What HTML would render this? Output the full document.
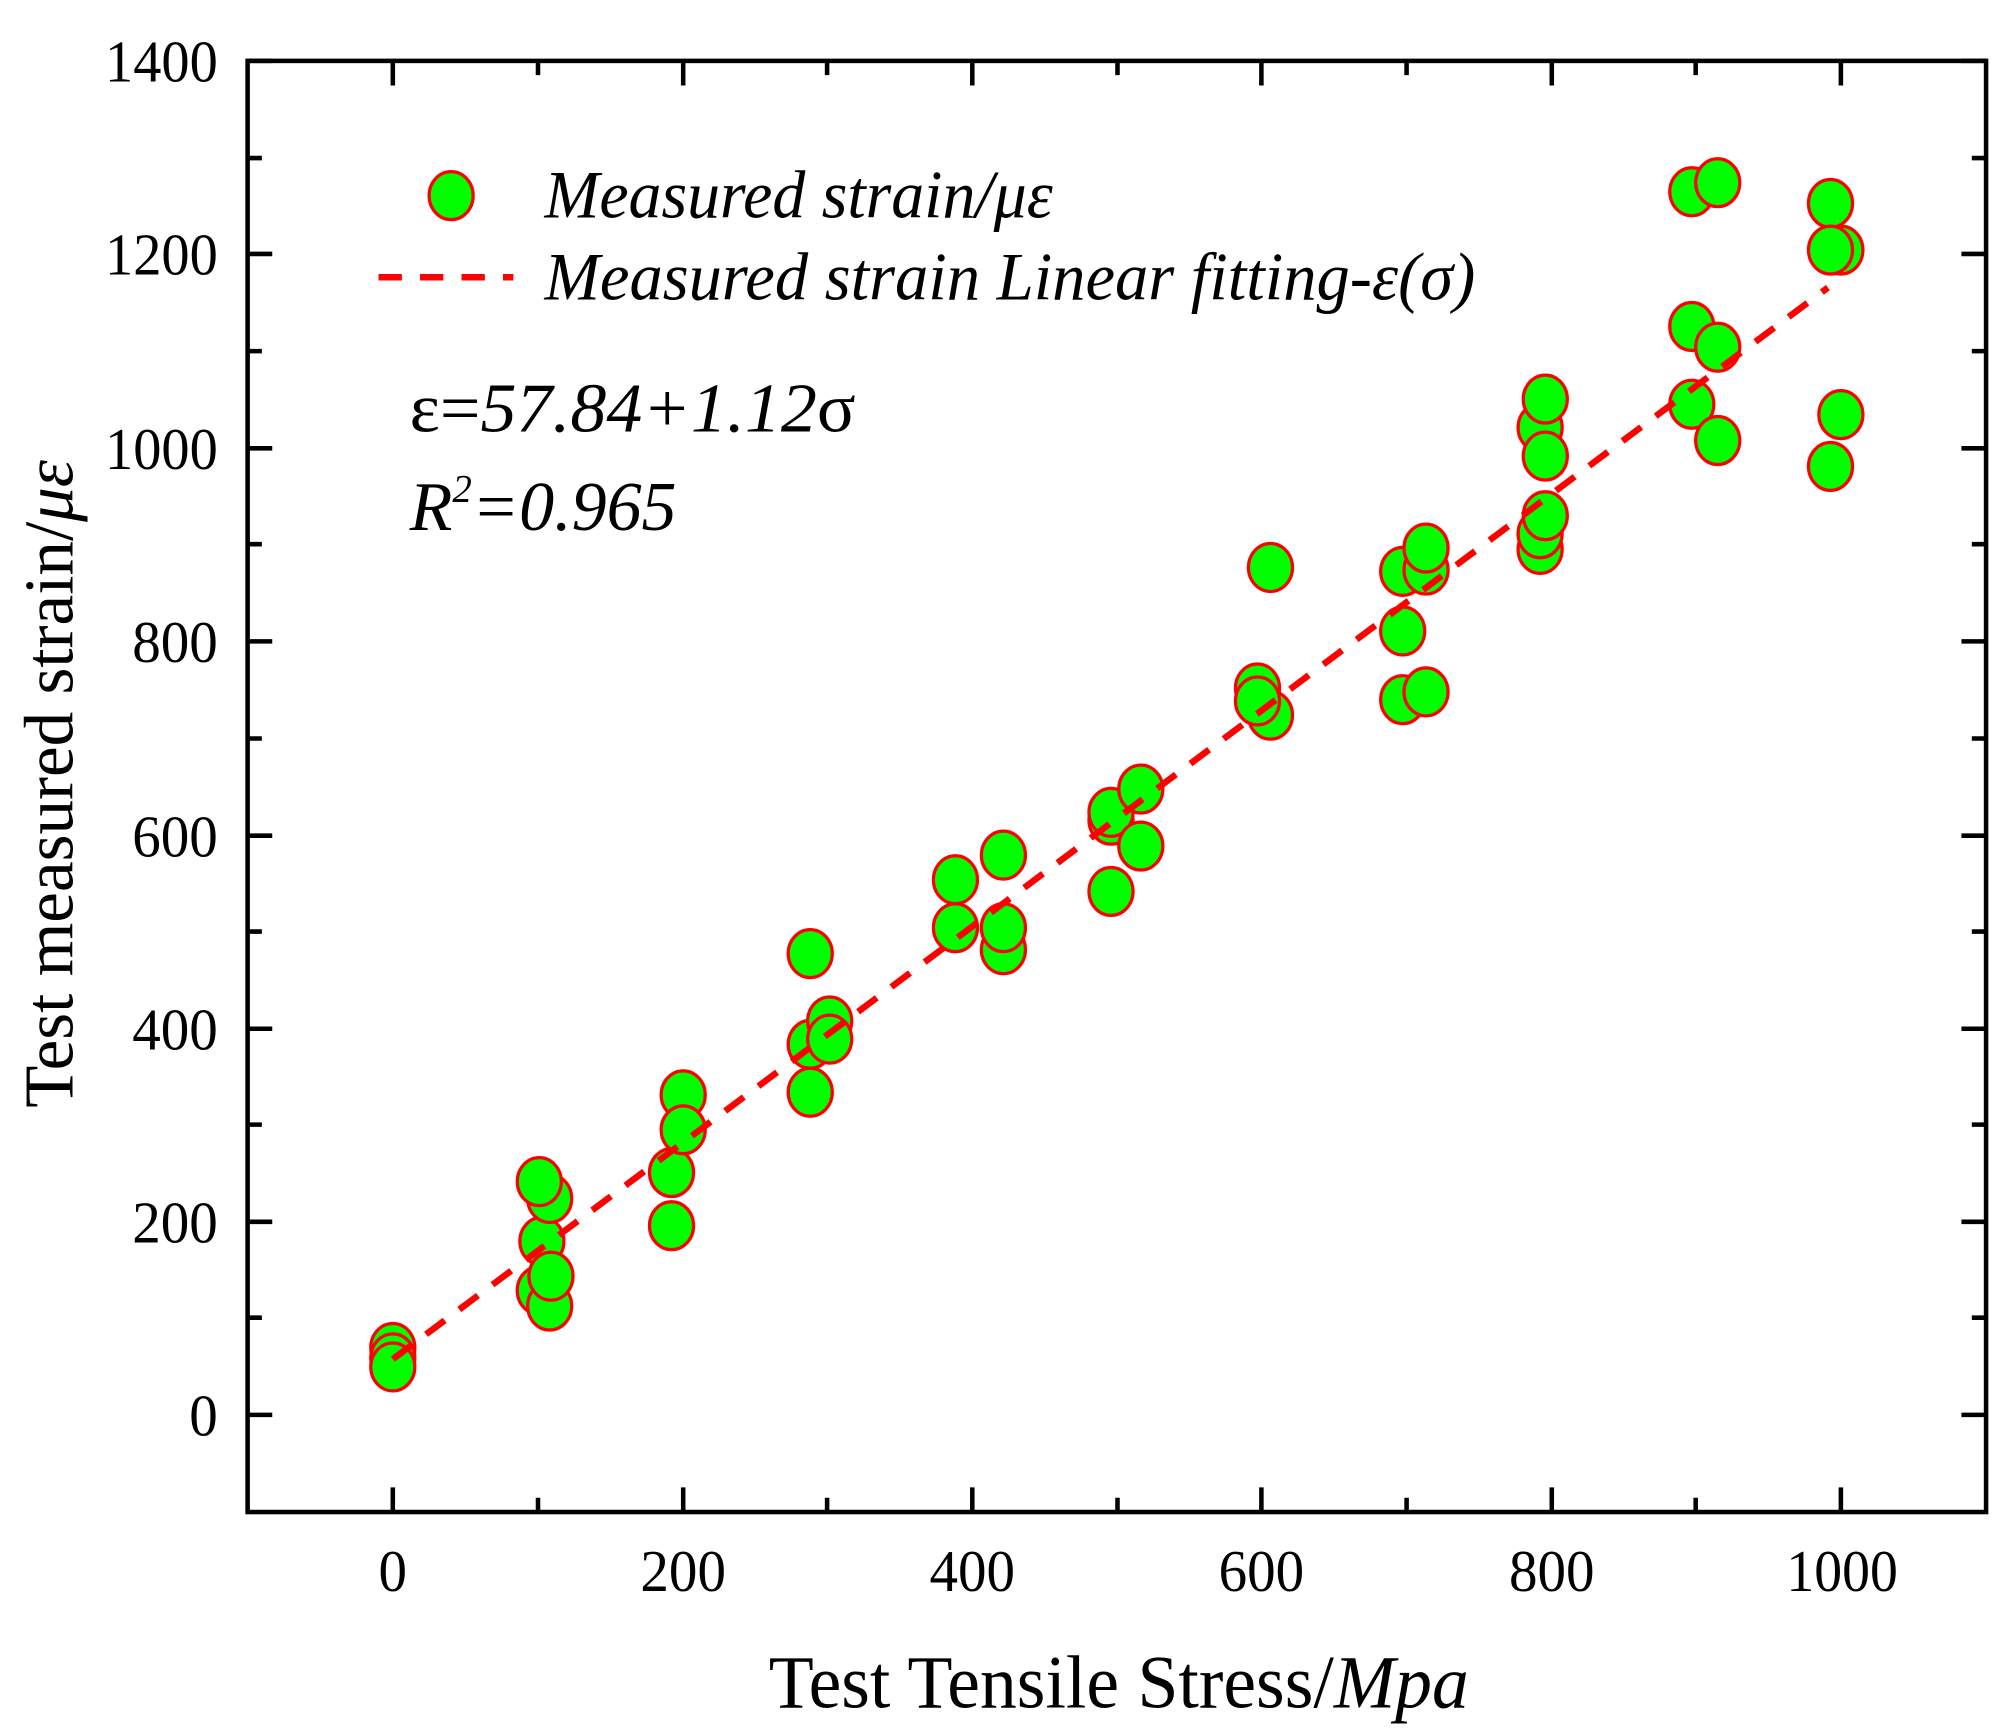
<!DOCTYPE html>
<html><head><meta charset="utf-8"><style>
html,body{margin:0;padding:0;background:#fff}
svg{display:block}
text{font-family:"Liberation Serif","DejaVu Serif",serif;fill:#000}
</style></head><body>
<svg width="2012" height="1731" viewBox="0 0 1552 1336" preserveAspectRatio="none" xmlns="http://www.w3.org/2000/svg">
<rect width="1552" height="1336" fill="#fff"/>
<g stroke="#000" stroke-width="3.5">
<path d="M191 1092h19M191 943h19M191 794h19M191 645h19M191 495h19M191 346h19M191 196h19M191 47h19"/>
<path d="M1532 1092h-19M1532 943h-19M1532 794h-19M1532 645h-19M1532 495h-19M1532 346h-19M1532 196h-19M1532 47h-19"/>
<path d="M191 1017h11M191 868h11M191 719h11M191 570h11M191 420h11M191 271h11M191 122h11"/>
<path d="M1532 1017h-11M1532 868h-11M1532 719h-11M1532 570h-11M1532 420h-11M1532 271h-11M1532 122h-11"/>
<path d="M303 1167v-19M527 1167v-19M750 1167v-19M973 1167v-19M1197 1167v-19M1420 1167v-19"/>
<path d="M303 47v19M527 47v19M750 47v19M973 47v19M1197 47v19M1420 47v19"/>
<path d="M415 1167v-11M638 1167v-11M862 1167v-11M1085 1167v-11M1308 1167v-11"/>
<path d="M415 47v11M638 47v11M862 47v11M1085 47v11M1308 47v11"/>
</g>
<rect x="191" y="47" width="1341" height="1120" fill="none" stroke="#000" stroke-width="3.5"/>
<g font-size="46" text-anchor="end" lengthAdjust="spacingAndGlyphs">
<text x="168" y="1108" textLength="22" lengthAdjust="spacingAndGlyphs">0</text>
<text x="168" y="959" textLength="66" lengthAdjust="spacingAndGlyphs">200</text>
<text x="168" y="810" textLength="66" lengthAdjust="spacingAndGlyphs">400</text>
<text x="168" y="661" textLength="66" lengthAdjust="spacingAndGlyphs">600</text>
<text x="168" y="511" textLength="66" lengthAdjust="spacingAndGlyphs">800</text>
<text x="168" y="362" textLength="87" lengthAdjust="spacingAndGlyphs">1000</text>
<text x="168" y="212" textLength="87" lengthAdjust="spacingAndGlyphs">1200</text>
<text x="168" y="63" textLength="87" lengthAdjust="spacingAndGlyphs">1400</text>
</g>
<g font-size="46">
<text x="292" y="1228" textLength="22" lengthAdjust="spacingAndGlyphs">0</text>
<text x="494" y="1228" textLength="66" lengthAdjust="spacingAndGlyphs">200</text>
<text x="717" y="1228" textLength="66" lengthAdjust="spacingAndGlyphs">400</text>
<text x="940" y="1228" textLength="66" lengthAdjust="spacingAndGlyphs">600</text>
<text x="1164" y="1228" textLength="66" lengthAdjust="spacingAndGlyphs">800</text>
<text x="1378" y="1228" textLength="86" lengthAdjust="spacingAndGlyphs">1000</text>
</g>
<text x="593" y="1318" font-size="58" textLength="540" lengthAdjust="spacingAndGlyphs">Test Tensile Stress/<tspan font-style="italic">Mpa</tspan></text>
<text transform="translate(56,855) rotate(-90)" font-size="54" textLength="500" lengthAdjust="spacingAndGlyphs">Test measured strain/<tspan font-style="italic">με</tspan></text>
<g fill="#00ff00" stroke="#ff0000" stroke-width="2.5">
<ellipse cx="303" cy="1040" rx="17" ry="18.5"/><ellipse cx="303" cy="1048" rx="17" ry="18.5"/><ellipse cx="303" cy="1055" rx="17" ry="18.5"/>
<ellipse cx="416" cy="996" rx="17" ry="18.5"/><ellipse cx="424" cy="1008" rx="17" ry="18.5"/><ellipse cx="418" cy="958" rx="17" ry="18.5"/><ellipse cx="424" cy="925" rx="17" ry="18.5"/><ellipse cx="416" cy="912" rx="17" ry="18.5"/><ellipse cx="425" cy="985" rx="17" ry="18.5"/>
<ellipse cx="518" cy="905" rx="17" ry="18.5"/><ellipse cx="518" cy="946" rx="17" ry="18.5"/><ellipse cx="527" cy="845" rx="17" ry="18.5"/><ellipse cx="527" cy="872" rx="17" ry="18.5"/>
<ellipse cx="625" cy="736" rx="17" ry="18.5"/><ellipse cx="625" cy="806" rx="17" ry="18.5"/><ellipse cx="625" cy="843" rx="17" ry="18.5"/><ellipse cx="640" cy="788" rx="17" ry="18.5"/><ellipse cx="640" cy="802" rx="17" ry="18.5"/>
<ellipse cx="737" cy="679" rx="17" ry="18.5"/><ellipse cx="737" cy="716" rx="17" ry="18.5"/><ellipse cx="774" cy="733" rx="17" ry="18.5"/><ellipse cx="774" cy="716" rx="17" ry="18.5"/><ellipse cx="774" cy="660" rx="17" ry="18.5"/>
<ellipse cx="857" cy="633" rx="17" ry="18.5"/><ellipse cx="857" cy="627" rx="17" ry="18.5"/><ellipse cx="857" cy="688" rx="17" ry="18.5"/><ellipse cx="880" cy="609" rx="17" ry="18.5"/><ellipse cx="880" cy="653" rx="17" ry="18.5"/>
<ellipse cx="970" cy="531" rx="17" ry="18.5"/><ellipse cx="980" cy="552" rx="17" ry="18.5"/><ellipse cx="970" cy="541" rx="17" ry="18.5"/><ellipse cx="980" cy="438" rx="17" ry="18.5"/>
<ellipse cx="1082" cy="441" rx="17" ry="18.5"/><ellipse cx="1082" cy="487" rx="17" ry="18.5"/><ellipse cx="1082" cy="540" rx="17" ry="18.5"/><ellipse cx="1100" cy="440" rx="17" ry="18.5"/><ellipse cx="1100" cy="423" rx="17" ry="18.5"/><ellipse cx="1100" cy="534" rx="17" ry="18.5"/>
<ellipse cx="1188" cy="424" rx="17" ry="18.5"/><ellipse cx="1188" cy="412" rx="17" ry="18.5"/><ellipse cx="1192" cy="398" rx="17" ry="18.5"/><ellipse cx="1188" cy="330" rx="17" ry="18.5"/><ellipse cx="1192" cy="352" rx="17" ry="18.5"/><ellipse cx="1192" cy="308" rx="17" ry="18.5"/>
<ellipse cx="1305" cy="148" rx="17" ry="18.5"/><ellipse cx="1325" cy="141" rx="17" ry="18.5"/><ellipse cx="1305" cy="252" rx="17" ry="18.5"/><ellipse cx="1325" cy="268" rx="17" ry="18.5"/><ellipse cx="1305" cy="312" rx="17" ry="18.5"/><ellipse cx="1325" cy="340" rx="17" ry="18.5"/>
<ellipse cx="1412" cy="157" rx="17" ry="18.5"/><ellipse cx="1420" cy="193" rx="17" ry="18.5"/><ellipse cx="1412" cy="193" rx="17" ry="18.5"/><ellipse cx="1420" cy="320" rx="17" ry="18.5"/><ellipse cx="1412" cy="360" rx="17" ry="18.5"/>
<ellipse cx="348" cy="151" rx="17" ry="18.5"/>
</g>
<g stroke="#ff0000" stroke-width="5" stroke-dasharray="18 14" fill="none">
<path d="M303 1049L1410 222"/>
<path d="M292 214H396"/>
</g>
<g font-size="52" font-style="italic">
<text x="420" y="168" textLength="392" lengthAdjust="spacingAndGlyphs">Measured strain/με</text>
<text x="420" y="231" textLength="718" lengthAdjust="spacingAndGlyphs">Measured strain Linear fitting-ε(σ)</text>
</g>
<text x="316" y="333" font-size="54" textLength="344" lengthAdjust="spacingAndGlyphs">ε=<tspan font-style="italic">57.84+1.12</tspan>σ</text>
<text x="316" y="409" font-size="54" font-style="italic">R<tspan font-size="30" dy="-22">2</tspan><tspan dy="22">=0.965</tspan></text>
</svg>
</body></html>
